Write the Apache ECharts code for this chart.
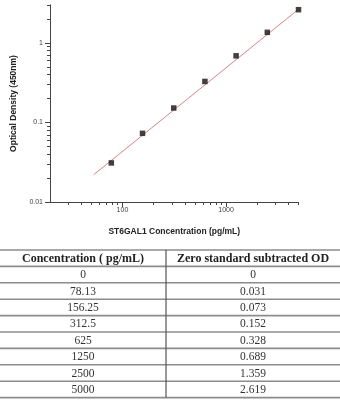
<!DOCTYPE html>
<html>
<head>
<meta charset="utf-8">
<script src="https://cdn.jsdelivr.net/npm/echarts@6/dist/echarts.min.js"></script>
<style>
html,body{margin:0;padding:0;background:#fff;}
#chart{width:340px;height:400px;}
</style>
</head>
<body>
<div id="chart"></div>
<script>
// ---- data ----
const concentrations = [78.13, 156.25, 312.5, 625, 1250, 2500, 5000];
const odValues = [0.031, 0.073, 0.152, 0.328, 0.689, 1.359, 2.619];
const fitX = [52.7, 5000];
const fitY = [0.022, 2.65];
const xMajorTicks = [100, 1000];
const xMinorTicks = [30, 40, 50, 60, 70, 80, 90, 200, 300, 400, 500, 600, 700, 800, 900, 2000, 3000, 4000, 5000];
const yMajorTicks = [0.01, 0.1, 1];
const yMinorTicks = [0.02, 0.03, 0.04, 0.05, 0.06, 0.07, 0.08, 0.09, 0.2, 0.3, 0.4, 0.5, 0.6, 0.7, 0.8, 0.9, 2, 3];
const tableHeaders = ['Concentration ( pg/mL)', 'Zero standard subtracted OD'];
const tableConc = ['0', '78.13', '156.25', '312.5', '625', '1250', '2500', '5000'];
const tableOD = ['0', '0.031', '0.073', '0.152', '0.328', '0.689', '1.359', '2.619'];

// ---- layout ----
const W = 340;
const tTop = 250, rowH = 16.4, colSplit = 166;
const nRows = tableConc.length + 1;
const graphics = [];
for (let i = 0; i <= nRows; i++) {
  const y = tTop + i * rowH;
  graphics.push({type: 'line', shape: {x1: 0, y1: y, x2: W, y2: y}, style: {stroke: '#8c8c8c', lineWidth: 1.6}});
}
graphics.push({type: 'line', shape: {x1: colSplit, y1: tTop, x2: colSplit, y2: tTop + nRows * rowH}, style: {stroke: '#555', lineWidth: 1.2}});
const cx1 = colSplit / 2, cx2 = (colSplit + W) / 2;
graphics.push({type: 'text', style: {text: tableHeaders[0], x: cx1, y: tTop + rowH / 2 + 0.5, textAlign: 'center', textVerticalAlign: 'middle', font: 'bold 12px "Liberation Serif"', fill: '#222'}});
graphics.push({type: 'text', style: {text: tableHeaders[1], x: cx2, y: tTop + rowH / 2 + 0.5, textAlign: 'center', textVerticalAlign: 'middle', font: 'bold 12px "Liberation Serif"', fill: '#222'}});
tableConc.forEach((v, i) => {
  const y = tTop + (i + 1) * rowH + rowH / 2 + 0.5;
  graphics.push({type: 'text', style: {text: v, x: cx1, y: y, textAlign: 'center', textVerticalAlign: 'middle', font: '11.5px "Liberation Serif"', fill: '#333'}});
  graphics.push({type: 'text', style: {text: tableOD[i], x: cx2, y: y, textAlign: 'center', textVerticalAlign: 'middle', font: '11.5px "Liberation Serif"', fill: '#333'}});
});

const axisColor = '#444';
const labelStyle = {fontFamily: 'Arial, "Liberation Sans"', fontSize: 7, color: '#444'};
const titleStyle = {fontFamily: 'Arial, "Liberation Sans"', fontSize: 8.5, fontWeight: 'bold', color: '#222'};

const chart = echarts.init(document.getElementById('chart'), null, {renderer: 'canvas'});
chart.setOption({
  animation: false,
  backgroundColor: '#fff',
  grid: {left: 50, right: 41.5, top: 5, bottom: 198, containLabel: false},
  xAxis: [
    {
      type: 'log', logBase: 10, min: 20, max: 5000, position: 'bottom',
      axisLine: {lineStyle: {color: axisColor, width: 1}},
      axisTick: {customValues: xMajorTicks, length: 5, lineStyle: {color: axisColor}},
      axisLabel: {customValues: xMajorTicks, margin: 5, formatter: v => String(+v), ...labelStyle},
      splitLine: {show: false},
      name: 'ST6GAL1 Concentration (pg/mL)', nameLocation: 'middle', nameGap: 25,
      nameTextStyle: titleStyle
    },
    {
      type: 'log', logBase: 10, min: 20, max: 5000, position: 'bottom', offset: 0,
      axisLine: {show: true, lineStyle: {color: axisColor, width: 1}},
      axisTick: {show: true, customValues: xMinorTicks, length: 3, lineStyle: {color: axisColor}},
      axisLabel: {show: false},
      splitLine: {show: false}
    }
  ],
  yAxis: [
    {
      type: 'log', logBase: 10, min: 0.01, max: 3, position: 'left',
      axisLine: {show: true, lineStyle: {color: axisColor, width: 1}},
      axisTick: {show: true, customValues: yMajorTicks, length: 5, lineStyle: {color: axisColor}},
      axisLabel: {customValues: yMajorTicks, margin: 7, formatter: v => String(+(+v).toPrecision(3)), ...labelStyle},
      splitLine: {show: false},
      name: 'Optical Density (450nm)', nameLocation: 'middle', nameGap: 26,
      nameTextStyle: titleStyle
    },
    {
      type: 'log', logBase: 10, min: 0.01, max: 3, position: 'left', offset: 0,
      axisLine: {show: true, lineStyle: {color: axisColor, width: 1}},
      axisTick: {show: true, customValues: yMinorTicks, length: 3, lineStyle: {color: axisColor}},
      axisLabel: {show: false},
      splitLine: {show: false}
    }
  ],
  series: [
    {
      type: 'line', xAxisIndex: 0, yAxisIndex: 0,
      data: fitX.map((x, i) => [x, fitY[i]]),
      showSymbol: false, symbol: 'none',
      lineStyle: {color: '#d9848a', width: 1},
      z: 2
    },
    {
      type: 'scatter', xAxisIndex: 0, yAxisIndex: 0,
      data: concentrations.map((x, i) => [x, odValues[i]]),
      symbol: 'rect', symbolSize: 5.5,
      itemStyle: {color: '#111'},
      z: 3
    }
  ],
  graphic: graphics
});
</script>
</body>
</html>
